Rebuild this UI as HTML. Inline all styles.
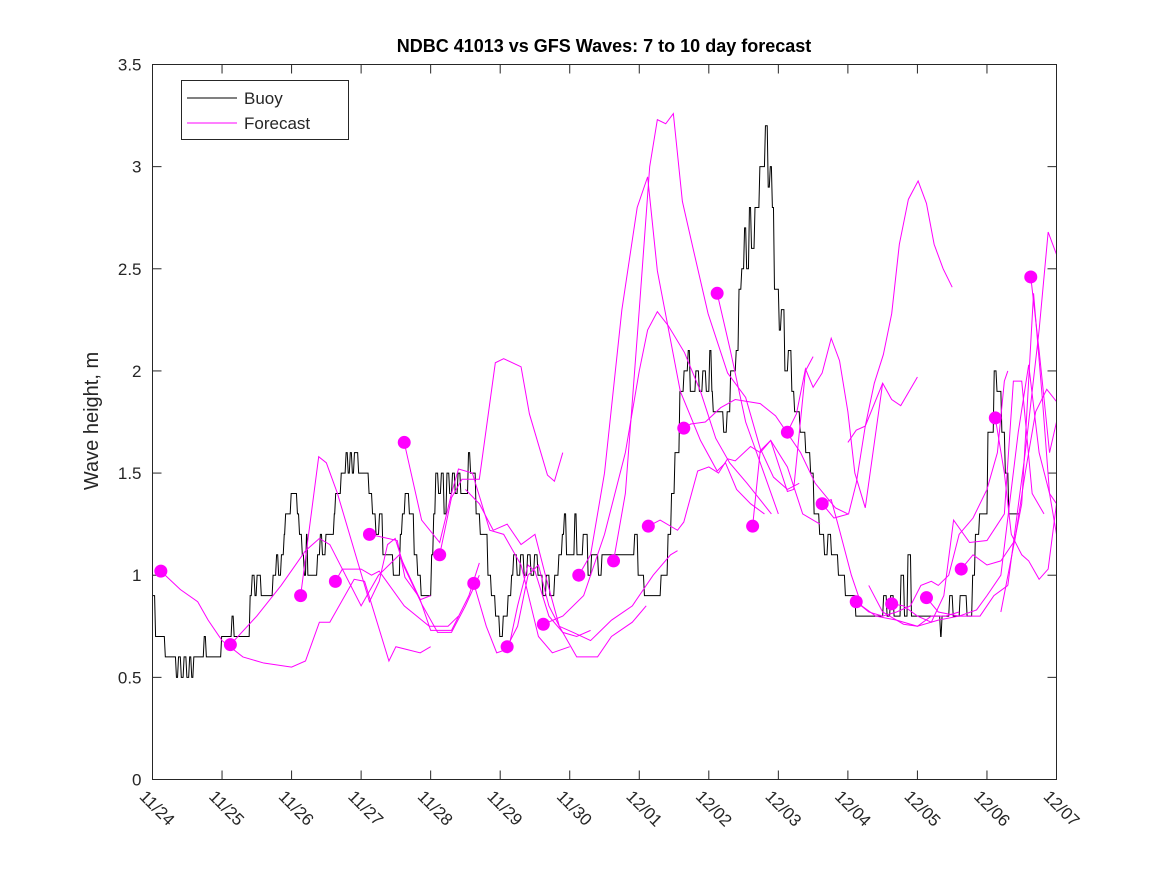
<!DOCTYPE html>
<html><head><meta charset="utf-8"><style>
body{margin:0;background:#fff}
svg text{font-family:"Liberation Sans",sans-serif;fill:#262626}
</style></head><body>
<svg id="chart" width="1167" height="875" xmlns="http://www.w3.org/2000/svg">
<rect width="1167" height="875" fill="#fff"/>
<text x="604" y="52" text-anchor="middle" font-size="18" font-weight="bold" style="fill:#000">NDBC 41013 vs GFS Waves: 7 to 10 day forecast</text>
<text transform="translate(98,421) rotate(-90)" text-anchor="middle" font-size="20">Wave height, m</text>
<g id="grid"></g>
<g id="series"></g>
<rect x="152.5" y="64.5" width="904" height="715" fill="none" stroke="#262626" stroke-width="1"/>
<g>
<rect x="181.5" y="80.5" width="167" height="59" fill="#fff" stroke="#262626"/>
<line x1="187" y1="98" x2="237" y2="98" stroke="#000"/>
<text x="244" y="104" font-size="17">Buoy</text>
<line x1="187" y1="123" x2="237" y2="123" stroke="#f0f"/>
<text x="244" y="129" font-size="17">Forecast</text>
</g>
</svg>
<script>
const xTickLabels=["11/24","11/25","11/26","11/27","11/28","11/29","11/30","12/01","12/02","12/03","12/04","12/05","12/06","12/07"];
const yTicks=[0,0.5,1,1.5,2,2.5,3,3.5];
const buoyDays=[0,0.03,0.17,0.33,0.36,0.4,0.44,0.48,0.52,0.55,0.58,0.73,0.76,0.98,1.13,1.16,1.39,1.42,1.46,1.49,1.55,1.72,1.77,1.8,1.84,1.88,1.9,1.98,2.07,2.1,2.14,2.17,2.2,2.22,2.36,2.4,2.43,2.48,2.6,2.62,2.7,2.77,2.8,2.83,2.86,2.89,2.95,3.1,3.15,3.2,3.25,3.3,3.45,3.55,3.58,3.62,3.68,3.75,3.8,3.85,4.0,4.03,4.06,4.1,4.14,4.18,4.22,4.26,4.3,4.34,4.38,4.42,4.53,4.56,4.64,4.7,4.81,4.86,4.92,4.98,5.03,5.1,5.15,5.18,5.23,5.28,5.33,5.38,5.43,5.48,5.53,5.6,5.65,5.7,5.77,5.83,5.88,5.91,5.94,6.06,6.09,6.18,6.25,6.3,6.4,6.45,6.92,6.97,7.06,7.26,7.3,7.4,7.45,7.5,7.57,7.63,7.69,7.72,7.8,7.85,7.9,7.95,8.0,8.03,8.05,8.2,8.25,8.3,8.38,8.42,8.46,8.5,8.53,8.57,8.6,8.65,8.72,8.8,8.84,8.87,8.9,8.93,9.0,9.03,9.08,9.13,9.18,9.22,9.3,9.38,9.45,9.5,9.58,9.65,9.7,9.75,9.85,9.95,10.1,10.5,10.55,10.6,10.65,10.75,10.8,10.85,10.9,11.32,11.34,11.45,11.5,11.6,11.7,11.78,11.82,11.88,12.0,12.09,12.13,12.2,12.25,12.3,12.45];
const buoyVals=[0.9,0.7,0.6,0.5,0.6,0.5,0.6,0.5,0.6,0.5,0.6,0.7,0.6,0.7,0.8,0.7,0.9,1.0,0.9,1.0,0.9,1.0,1.1,1.0,1.1,1.2,1.3,1.4,1.3,1.2,1.1,1.0,1.2,1.0,1.1,1.2,1.1,1.2,1.3,1.4,1.5,1.6,1.5,1.6,1.5,1.6,1.5,1.4,1.3,1.2,1.3,1.1,1.0,1.2,1.3,1.4,1.3,1.1,1.0,0.9,1.1,1.3,1.5,1.4,1.5,1.3,1.5,1.4,1.5,1.4,1.5,1.4,1.6,1.5,1.3,1.2,1.0,0.9,0.8,0.7,0.8,0.9,1.0,1.1,1.0,1.1,1.0,1.1,1.0,1.1,1.0,0.9,1.0,0.9,1.0,1.1,1.2,1.3,1.1,1.3,1.1,1.2,1.0,1.1,1.0,1.1,1.2,1.0,0.9,0.9,1.0,1.2,1.4,1.6,1.9,2.0,2.1,1.9,2.0,1.9,2.0,1.9,2.1,1.9,1.8,1.7,1.8,2.0,2.1,2.4,2.5,2.7,2.5,2.8,2.6,2.8,3.0,3.2,2.9,3.0,2.8,2.4,2.2,2.3,2.0,2.1,1.9,1.8,1.7,1.6,1.5,1.3,1.2,1.1,1.2,1.1,1.0,0.9,0.8,0.9,0.8,0.9,0.8,1.0,0.8,1.1,0.8,0.7,0.8,0.9,0.8,0.9,0.8,1.0,1.2,1.3,1.7,2.0,1.9,1.7,1.5,1.3,1.3];
const fcDays=[
[0.12,0.4,0.65,0.8,1.0,1.3,1.6,2.0,2.2,2.4,2.55,2.9,3.05,3.4,3.5,3.85,4.0],
[1.12,1.5,1.85,2.2,2.4,2.55,3.0,3.25,3.55,3.85,4.0],
[2.13,2.39,2.5,2.66,3.12,3.26,3.38,3.49,3.62,3.87,4.1,4.3,4.5,4.7],
[2.63,2.73,3.0,3.15,3.26,3.62,3.98,4.25,4.4],
[3.12,3.52,3.63,3.84,4.0,4.3,4.55,4.7],
[3.62,3.87,4.13,4.3,4.4,4.6,4.85,5.05,5.3,5.55,5.75,6.0],
[4.13,4.3,4.45,4.7,4.93,5.05,5.3,5.42,5.68,5.78,5.9],
[4.62,4.8,4.95,5.12,5.25,5.4,5.5,5.7,5.9,6.1,6.3],
[4.5,4.7,4.9,5.1,5.3,5.5,5.65,5.85,6.1,6.4,6.6,6.9,7.1],
[5.1,5.25,5.4,5.55,5.7,5.85,6.05,6.3,6.6,6.9,7.2,7.45,7.55],
[5.62,5.9,6.2,6.5,6.8,7.0,7.12,7.26,7.42,7.65,7.88,8.1,8.3,8.55,8.9],
[6.13,6.3,6.5,6.75,6.97,7.12,7.26,7.59,7.88,8.12,8.24,8.4,8.6,8.8],
[6.63,6.8,7.0,7.15,7.26,7.38,7.49,7.62,7.78,7.99,8.27,8.53,8.74,8.93,9.13,9.3],
[7.13,7.3,7.55,7.64,7.84,8.0,8.14,8.27,8.38,8.6,8.74,8.89,9.13,9.35,9.6],
[7.64,7.74,7.95,8.17,8.38,8.74,8.96,9.32,9.53,9.82,10.0],
[8.12,8.31,8.53,8.74,9.0],
[8.63,8.74,8.89,9.13,9.22,9.39,9.5],
[9.13,9.26,9.39,9.5,9.63,9.76,9.88,10.0,10.1,10.25,10.5],
[9.63,9.8,10.01,10.12,10.25,10.38,10.51,10.63,10.74,10.87,11.01,11.13,11.24,11.37,11.5],
[10.0,10.12,10.25,10.5,10.63,10.76,11.0],
[9.63,9.76,9.88,10.05,10.2,10.4,10.7,11.0,11.2,11.4,11.6],
[10.12,10.3,10.5,10.7,10.9,11.05,11.2,11.3,11.45,11.6,11.8,12.0,12.15,12.25,12.3],
[10.63,10.8,11.0,11.2,11.38,11.52,11.75,12.0,12.25,12.38,12.5,12.65,12.82],
[11.13,11.3,11.6,11.85,12.0,12.2,12.45,12.6,12.75,12.9,13.0],
[11.63,11.8,12.0,12.2,12.4,12.55,12.7,12.86,13.0],
[12.12,12.25,12.35,12.5,12.6,12.75,12.88,13.0],
[12.63,12.75,12.9,13.0],
[12.2,12.5,12.67,12.8,12.9,13.0],
[12.3,12.55,12.75,12.88,13.0],
[10.3,10.5,10.8,11.0,11.3,11.6,11.9,12.1,12.3]
];
const fcVals=[
[1.02,0.93,0.87,0.78,0.68,0.6,0.57,0.55,0.58,0.77,0.77,0.98,0.97,0.58,0.65,0.62,0.65],
[0.66,0.8,0.95,1.12,1.18,1.15,0.85,1.0,1.1,0.88,0.9],
[0.9,1.58,1.55,1.4,0.87,0.97,1.15,1.18,1.04,0.86,0.72,0.72,0.85,1.0],
[0.97,1.03,1.03,1.0,1.02,0.85,0.75,0.75,0.8],
[1.2,1.17,0.99,0.89,0.73,0.73,0.9,1.06],
[1.65,1.27,1.16,1.4,1.52,1.5,1.22,1.2,1.05,0.7,0.62,0.65],
[1.1,1.38,1.47,1.47,2.04,2.06,2.02,1.79,1.49,1.46,1.6],
[0.96,0.75,0.62,0.64,0.85,1.05,1.02,0.8,0.72,0.7,0.73],
[1.42,1.35,1.22,1.25,1.15,1.2,1.0,0.75,0.6,0.6,0.7,0.77,0.85],
[0.65,0.75,1.0,1.05,0.85,0.75,0.72,0.68,0.78,0.85,1.0,1.1,1.12],
[0.76,0.8,0.9,1.2,1.6,2.0,2.2,2.29,2.22,2.09,1.9,1.67,1.55,1.45,1.3],
[1.0,1.1,1.5,2.3,2.8,2.95,2.49,1.9,1.66,1.51,1.55,1.42,1.35,1.3],
[1.07,1.4,2.3,3.0,3.23,3.21,3.26,2.83,2.59,2.28,1.99,1.87,1.62,1.48,1.42,1.45],
[1.24,1.27,1.22,1.26,1.51,1.53,1.5,1.57,1.56,1.63,1.6,1.66,1.53,1.3,1.25],
[1.72,1.74,1.75,1.82,1.86,1.84,1.78,1.6,1.45,1.33,1.3],
[2.38,2.1,1.75,1.55,1.3],
[1.24,1.61,1.66,1.41,1.42,2.0,2.07],
[1.7,1.79,2.01,1.92,1.99,2.16,2.05,1.8,1.5,1.33,1.94],
[1.35,1.28,1.3,1.45,1.73,1.94,2.08,2.28,2.62,2.84,2.93,2.82,2.62,2.5,2.41],
[1.65,1.71,1.73,1.94,1.86,1.83,1.97],
[1.35,1.37,1.22,1.0,0.85,0.8,0.78,0.75,0.8,0.8,0.82],
[0.87,0.82,0.8,0.82,0.85,0.95,0.97,0.95,1.0,1.2,1.28,1.42,1.6,1.95,2.0],
[0.86,0.85,0.8,0.77,0.9,1.27,1.16,1.17,1.3,1.95,1.95,1.4,1.3],
[0.89,0.82,0.8,0.83,0.9,1.0,1.7,2.03,1.6,1.4,1.35],
[1.03,1.1,1.05,1.07,1.17,1.5,1.8,1.91,1.85],
[1.77,1.5,1.2,1.1,1.07,0.98,1.03,1.35],
[2.46,2.1,1.6,1.75],
[0.82,1.35,2.38,1.85,1.4,1.2],
[0.95,1.6,2.2,2.68,2.57],
[0.95,0.82,0.76,0.75,0.78,0.8,0.8,0.9,0.95]
];
const dotDays=[0.12,1.12,2.13,2.63,3.12,3.62,4.13,4.62,5.1,5.62,6.13,6.63,7.13,7.64,8.12,8.63,9.13,9.63,10.12,10.63,11.13,11.63,12.12,12.63];
const dotVals=[1.02,0.66,0.9,0.97,1.2,1.65,1.1,0.96,0.65,0.76,1.0,1.07,1.24,1.72,2.38,1.24,1.7,1.35,0.87,0.86,0.89,1.03,1.77,2.46];

const X0=152.5,X1=1056.5,Y0=779.5,Y1=64.5;
function xs(d){return X0+(X1-X0)*d/13;}
function ys(v){return Y0-(Y0-Y1)*v/3.5;}
const NS="http://www.w3.org/2000/svg";
const grid=document.getElementById('grid'),ser=document.getElementById('series');
function mk(tag,attrs,parent){const e=document.createElementNS(NS,tag);for(const k in attrs)e.setAttribute(k,attrs[k]);parent.appendChild(e);return e;}
yTicks.forEach((v,i)=>{
  const y=ys(v);
  const t1=mk('line',{x1:X0,x2:X0+9,y1:y,y2:y,stroke:'#262626'},grid);
  
  
  mk('line',{x1:X1-9,x2:X1,y1:y,y2:y,stroke:'#262626'},grid);
  const tx=mk('text',{x:X0-11,y:y+6,'text-anchor':'end','font-size':'17'},grid);
  tx.textContent=String(v);
  
  
});
xTickLabels.forEach((lab,i)=>{
  const x=xs(i);
  const t1=mk('line',{x1:x,x2:x,y1:Y0,y2:Y0-9,stroke:'#262626'},grid);
  
  
  mk('line',{x1:x,x2:x,y1:Y1,y2:Y1+9,stroke:'#262626'},grid);
  const tx=mk('text',{transform:`translate(${x-14},${Y0+18}) rotate(45)`,'font-size':'17'},grid);
  tx.textContent=lab;
  
  
});
let p=`M${xs(buoyDays[0])},${ys(buoyVals[0])}`;
for(let i=1;i<buoyDays.length;i++){p+=` L${xs(buoyDays[i])},${ys(buoyVals[i-1])} L${xs(buoyDays[i])+1},${ys(buoyVals[i])}`;}
const bl=mk('path',{d:p,fill:'none',stroke:'#000','stroke-width':1},ser);


fcDays.forEach((ds,k)=>{
  const pts=ds.map((d,i)=>xs(d)+','+ys(fcVals[k][i])).join(' ');
  const pl=mk('polyline',{points:pts,fill:'none',stroke:'#ff00ff','stroke-width':1},ser);
  
  
});
dotDays.forEach((d,i)=>{
  const c=mk('circle',{cx:xs(d),cy:ys(dotVals[i]),r:6.5,fill:'#ff00ff'},ser);
  
  
});
</script>
</body></html>
